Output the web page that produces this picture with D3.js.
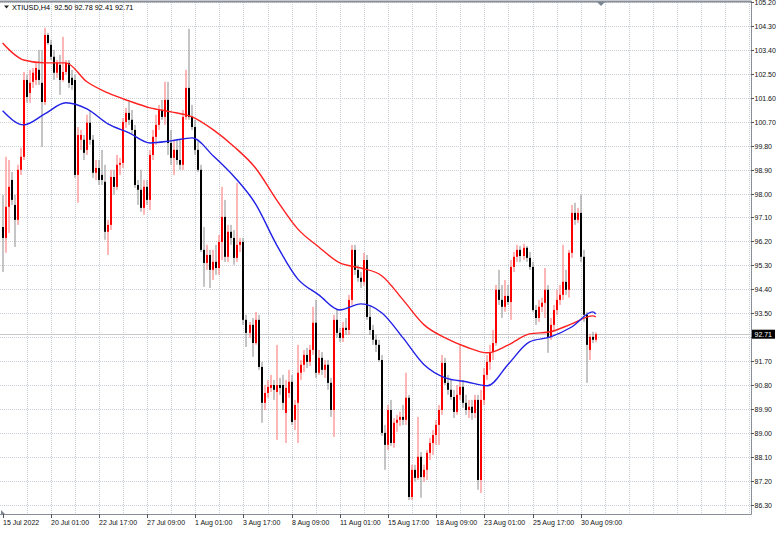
<!DOCTYPE html>
<html><head><meta charset="utf-8">
<script src="https://cdn.jsdelivr.net/npm/d3@7/dist/d3.min.js"></script>
<style>
html,body{margin:0;padding:0;background:#fff;}
svg{display:block;}
text{font-family:"Liberation Sans",Arial,sans-serif;}
</style></head>
<body>
<svg id="chart" width="784" height="533"></svg>
<script>
// ---- DATA ----
const symbol = "XTIUSD,H4";
const lastQuote = ["92.50","92.78","92.41","92.71"];
const opens = [96.74,96.33,97.50,98.51,97.57,97.01,98.89,99.38,102.27,101.78,102.20,102.27,102.65,102.16,101.44,103.96,103.59,103.14,102.54,102.84,102.27,102.57,102.91,102.35,102.27,98.70,100.02,100.02,99.64,100.66,100.02,98.78,98.96,98.70,98.44,96.56,96.82,98.62,98.25,99.08,99.15,100.69,101.03,100.77,100.39,98.32,98.14,97.46,98.25,97.76,99.45,100.13,100.58,101.14,100.88,101.52,99.90,99.34,99.64,99.26,99.08,100.88,101.97,100.88,100.50,99.64,98.89,95.88,95.39,95.69,95.13,95.43,95.20,96.18,97.12,95.62,96.56,96.33,95.58,96.07,96.18,93.25,92.76,93.06,92.38,93.25,91.48,90.13,90.50,90.69,90.80,90.54,90.80,90.80,89.75,90.50,90.92,89.49,90.13,91.26,91.56,91.93,91.67,92.12,93.14,91.26,91.82,91.37,91.56,90.88,89.86,93.25,92.76,92.57,92.95,92.87,94.00,95.88,95.13,94.83,94.68,95.50,93.36,92.87,92.50,92.31,91.74,89.00,88.55,89.86,88.62,89.38,89.49,89.60,89.49,90.32,86.59,87.61,87.31,88.10,87.34,87.61,88.25,88.62,88.92,89.30,89.86,91.63,90.88,90.62,90.35,89.79,90.43,90.73,90.13,89.86,89.98,89.75,90.24,87.23,90.24,91.18,91.67,92.04,92.38,94.38,94.00,93.74,94.15,93.92,95.24,95.62,95.88,95.65,95.96,95.58,95.24,93.62,93.32,93.74,93.89,94.38,92.61,93.06,93.62,94.00,94.19,94.68,94.38,95.77,97.27,97.01,97.27,95.62,93.44,92.12,92.61,92.50];
const highs = [97.95,99.38,99.26,98.81,97.95,99.08,99.72,102.57,102.46,102.65,102.72,102.91,103.40,103.40,104.23,104.04,103.78,103.40,103.02,103.21,103.89,103.02,103.02,102.65,102.46,100.50,100.39,100.20,100.96,101.14,100.20,99.26,99.26,99.64,99.08,97.01,98.89,98.89,99.45,99.34,100.84,101.22,101.52,101.14,100.58,98.51,98.89,98.51,98.51,99.64,100.39,100.96,101.33,101.52,102.20,102.20,100.39,100.02,100.02,100.02,101.14,102.65,104.19,101.33,100.77,100.02,99.08,96.74,96.07,95.88,95.88,96.07,96.44,98.25,97.76,96.82,96.82,96.63,98.40,96.33,96.33,93.44,93.17,93.32,93.55,93.44,91.67,90.80,90.99,91.18,90.99,92.31,91.07,91.18,90.99,91.37,91.18,90.24,92.31,91.74,92.12,92.20,92.31,93.74,94.00,92.12,92.04,91.74,91.74,91.07,93.44,93.62,92.95,93.17,93.32,94.19,96.07,96.07,95.32,95.05,95.77,95.69,93.81,93.06,92.68,92.50,91.93,89.30,90.05,90.24,89.56,89.68,89.79,90.05,91.26,90.43,87.80,87.80,89.60,88.28,87.80,88.36,88.81,89.11,89.49,90.05,91.93,91.82,91.18,90.99,90.62,90.80,92.31,90.99,90.43,90.24,90.24,90.43,90.43,90.62,91.44,91.93,92.31,92.87,94.56,95.13,94.56,94.75,94.56,95.50,95.80,96.07,96.03,96.11,96.03,95.80,95.43,93.81,94.00,94.08,95.20,94.56,93.32,93.81,94.38,94.56,96.07,95.13,95.88,97.57,97.65,97.46,97.95,95.88,93.55,92.72,92.80,92.78];
const lows = [95.05,95.77,96.52,97.57,95.99,96.82,98.70,99.26,101.41,101.41,101.97,102.08,102.08,99.75,101.33,103.59,103.02,102.27,102.35,101.71,102.20,102.46,101.97,101.90,98.59,97.65,99.64,99.26,99.45,99.83,98.59,98.51,98.32,98.32,96.26,95.69,96.63,97.95,98.14,98.70,98.96,100.47,100.58,100.20,98.21,97.57,97.31,97.20,97.57,97.38,99.26,99.83,100.39,100.77,100.58,99.45,99.08,98.70,99.08,98.89,98.89,100.77,100.77,100.39,99.45,98.81,95.80,94.49,95.13,94.45,94.75,94.94,94.94,95.50,95.43,95.43,96.07,95.32,95.43,95.80,93.06,92.23,92.57,91.86,92.31,91.37,89.38,89.86,90.32,90.54,90.24,88.74,90.43,89.86,88.62,90.32,89.30,89.11,88.62,90.99,91.29,91.44,91.52,91.93,91.07,91.18,91.18,91.07,90.62,89.60,88.85,92.57,92.42,92.42,92.68,92.68,93.81,94.94,94.68,94.45,94.53,93.25,92.68,92.31,92.04,91.67,88.89,87.61,88.36,88.51,88.44,89.04,89.26,89.30,89.30,86.48,86.48,87.16,87.23,86.56,87.16,87.23,87.98,88.17,88.55,88.55,89.68,90.80,90.43,90.24,89.56,89.68,90.24,89.94,89.68,89.56,89.49,89.56,86.86,86.74,90.05,90.99,91.37,91.74,92.27,93.81,93.32,93.55,93.81,93.25,95.05,95.43,95.43,95.50,95.43,95.13,93.55,93.06,93.17,93.55,93.32,92.01,92.50,92.87,93.44,93.81,94.00,94.19,94.08,95.58,96.82,96.90,95.43,93.17,90.88,91.74,92.38,92.41];
const closes = [96.33,97.50,98.25,97.76,97.01,98.89,99.38,102.27,101.63,102.16,102.54,102.72,102.27,101.44,103.96,103.66,103.14,102.54,102.91,102.27,102.57,102.91,102.16,102.08,98.70,100.20,100.20,99.53,100.66,100.02,98.78,98.96,98.51,98.51,96.56,96.82,98.62,98.25,99.08,99.15,100.69,101.03,100.77,100.39,98.32,98.14,97.46,98.25,97.76,99.45,100.13,100.58,101.14,100.88,101.52,99.90,99.34,99.64,99.26,99.08,100.88,101.97,100.88,100.50,99.64,98.89,95.88,95.39,95.69,95.13,95.43,95.20,96.18,97.12,95.62,96.56,96.33,95.58,96.07,96.18,93.25,92.76,93.06,92.38,93.25,91.48,90.13,90.50,90.73,90.80,90.62,90.80,90.69,90.13,90.69,90.92,89.41,90.05,91.26,91.56,91.93,91.67,92.12,93.14,91.26,91.82,91.37,91.56,90.88,89.86,93.25,92.76,92.57,92.95,92.87,94.00,95.88,95.13,94.83,94.68,95.50,93.36,92.87,92.50,92.31,91.74,89.00,88.55,89.86,88.62,89.38,89.49,89.60,89.49,90.32,86.59,87.61,87.31,88.10,87.34,87.61,88.25,88.62,88.92,89.30,89.86,91.63,90.88,90.62,90.35,89.79,90.43,90.73,90.13,89.86,89.98,89.75,90.24,87.23,90.24,91.18,91.67,92.04,92.38,94.38,94.00,93.74,94.15,93.92,95.24,95.62,95.88,95.65,95.96,95.58,95.24,93.62,93.32,93.74,93.89,94.38,92.61,93.06,93.62,94.00,94.19,94.68,94.38,95.77,97.27,97.01,97.27,95.62,93.44,92.31,92.61,92.50,92.71];
const maIdx  = [0,7,14,21,28,35,42,49,56,63,70,77,84,91,98,105,112,119,126,133,140,147,154,161,168,175,182,189,196,197];
const maSlow = [103.66,103.02,102.91,102.91,102.20,101.78,101.48,101.22,101.07,100.88,100.39,99.75,98.96,97.76,96.67,95.99,95.39,95.20,94.90,94.00,93.06,92.57,92.23,92.01,92.31,92.72,92.80,93.10,93.40,93.36];
const maFast = [101.11,100.58,100.99,101.41,101.18,100.62,100.28,99.90,99.98,100.09,99.41,98.62,97.61,96.07,94.79,94.19,93.62,93.85,93.51,92.57,91.56,91.07,90.92,90.77,91.59,92.42,92.61,92.98,93.55,93.47];
const timeLabels = ["15 Jul 2022","20 Jul 01:00","22 Jul 17:00","27 Jul 09:00","1 Aug 01:00","3 Aug 17:00","8 Aug 09:00","11 Aug 01:00","15 Aug 17:00","18 Aug 09:00","23 Aug 01:00","25 Aug 17:00","30 Aug 09:00"];
const timeLabelBars = [0,16,32,48,64,80,96,112,128,144,160,176,192];
const priceTicks = ["86.30","87.20","88.10","89.00","89.90","90.80","91.70","92.60","93.50","94.40","95.30","96.20","97.10","98.00","98.90","99.80","100.70","101.60","102.50","103.40","104.30","105.20"];
const lastPrice = 92.71;

// ---- LAYOUT ----
const W = 784, H = 533;
const plotR = 751, plotB = 514, plotT = 2;
const svg = d3.select("#chart");
const x = d3.scaleLinear().domain([0, 249]).range([2.6, 2.6 + 249 * 3.011]);
const y = d3.scaleLinear().domain([85.95, 105.20]).range([plotB, plotT]);

const plot = svg.append("g");
svg.append("clipPath").attr("id","pc").append("rect")
  .attr("x",0).attr("y",plotT).attr("width",plotR).attr("height",plotB-plotT);

// grid
const gridColor = "#c9ced7";
const grid = plot.append("g").attr("clip-path","url(#pc)");
priceTicks.forEach(t => {
  const yy = Math.round(y(+t)) + 0.5;
  grid.append("line").attr("x1",0).attr("x2",plotR).attr("y1",yy).attr("y2",yy)
    .attr("stroke",gridColor).attr("stroke-dasharray","1,1");
});
for (let b = 8; b < 249; b += 8) {
  const xx = Math.round(x(b)) + 0.5;
  grid.append("line").attr("x1",xx).attr("x2",xx).attr("y1",plotT).attr("y2",plotB)
    .attr("stroke",gridColor).attr("stroke-dasharray","1,1");
}
// current price line
grid.append("line").attr("x1",0).attr("x2",plotR)
  .attr("y1",Math.round(y(lastPrice))+0.5).attr("y2",Math.round(y(lastPrice))+0.5)
  .attr("stroke","#c8c8c8");

// candles
const candles = plot.append("g").attr("clip-path","url(#pc)");
closes.forEach((c, i) => {
  const o = opens[i], h = highs[i], l = lows[i];
  const bull = c >= o;
  const cx = Math.round(x(i));
  candles.append("rect").attr("x", cx - 0.5).attr("width",1)
    .attr("y", y(h)).attr("height", Math.max(1, y(l) - y(h)))
    .attr("fill", bull ? "#ff6e6e" : "#8c8c8c");
  const top = y(Math.max(o,c)), bot = y(Math.min(o,c));
  candles.append("rect").attr("x", cx - 1).attr("width",2)
    .attr("y", top).attr("height", Math.max(1, bot - top))
    .attr("fill", bull ? "#ff0000" : "#000000");
});

// moving averages
const line = d3.line().x(d => x(d[0])).y(d => y(d[1])).curve(d3.curveMonotoneX);
const lines = plot.append("g").attr("clip-path","url(#pc)");
lines.append("path").datum(maIdx.map((b,k)=>[b,maSlow[k]]))
  .attr("d",line).attr("fill","none").attr("stroke","#ff2020").attr("stroke-width",1.4);
lines.append("path").datum(maIdx.map((b,k)=>[b,maFast[k]]))
  .attr("d",line).attr("fill","none").attr("stroke","#2020e6").attr("stroke-width",1.4);

// borders
svg.append("line").attr("x1",0).attr("x2",plotR+0.5).attr("y1",1.5).attr("y2",1.5).attr("stroke","#8a8f99").attr("stroke-width",2);
svg.append("line").attr("x1",plotR+0.5).attr("x2",plotR+0.5).attr("y1",1).attr("y2",plotB+0.5).attr("stroke","#8a8f99");
svg.append("line").attr("x1",0).attr("x2",plotR+0.5).attr("y1",plotB+0.5).attr("y2",plotB+0.5).attr("stroke","#8a8f99");
// chart shift marker
svg.append("path").attr("d","M597,2 L605,2 L601,6 Z").attr("fill","#7d8794");
svg.append("path").attr("d","M1,510 L1,514 L5,514 Z").attr("fill","#7d8794");

// right axis (the 92.60 label is hidden under the last-price box, as in the reference)
const ra = svg.append("g");
priceTicks.forEach(t => {
  const yy = Math.round(y(+t)) + 0.5;
  ra.append("line").attr("x1",plotR).attr("x2",plotR+3).attr("y1",yy).attr("y2",yy).attr("stroke","#555");
  if (Math.abs(+t - lastPrice) < 0.3) return;
  ra.append("text").attr("x",754.5).attr("y",yy).attr("dy","0.35em")
    .attr("font-size","7px").attr("fill","#111").text(t);
});
// last price box
const ly = y(lastPrice);
ra.append("rect").attr("x",752).attr("y",ly-4.5).attr("width",23).attr("height",9).attr("fill","#000");
ra.append("text").attr("x",754.5).attr("y",ly).attr("dy","0.35em")
  .attr("font-size","7px").attr("fill","#fff").text(lastPrice.toFixed(2));

// bottom axis
const ba = svg.append("g");
timeLabelBars.forEach((b,k) => {
  const xx = Math.round(x(b)) + 0.5;
  ba.append("line").attr("x1",xx).attr("x2",xx).attr("y1",plotB).attr("y2",plotB+4).attr("stroke","#555");
  ba.append("text").attr("x", xx - 0.5).attr("y", 523).attr("dy","0.35em")
    .attr("font-size","7px").attr("fill","#111").text(timeLabels[k]);
});

// title
svg.append("path").attr("d","M4,5.5 L9,5.5 L6.5,8.5 Z").attr("fill","#222");
svg.append("text").attr("x",12).attr("y",7).attr("dy","0.35em")
  .attr("font-size","7.3px").attr("fill","#000").attr("xml:space","preserve")
  .text(symbol + "  " + lastQuote.join(" "));
</script>
</body></html>
